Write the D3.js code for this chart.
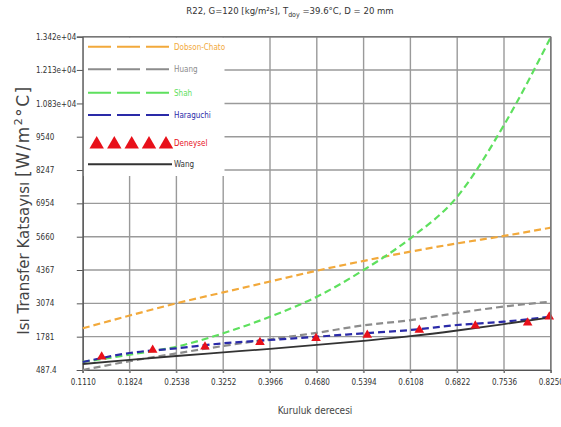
<!DOCTYPE html>
<html>
<head>
<meta charset="utf-8">
<script src="https://cdn.jsdelivr.net/npm/d3@7"></script>
<style>
  body { margin: 0; background: #fff; }
  svg { display: block; }
  .narrow { font-family: "Liberation Sans Narrow", "DejaVu Sans Condensed", "Liberation Sans", sans-serif; }
</style>
</head>
<body>
<svg id="graph" width="561" height="427"></svg>
<script>
// dryness fraction ticks (x)
var xTicks = [0.1110, 0.1824, 0.2538, 0.3252, 0.3966, 0.4680, 0.5394, 0.6108, 0.6822, 0.7536, 0.8250];
var xTickLabels = ["0.1110", "0.1824", "0.2538", "0.3252", "0.3966", "0.4680", "0.5394", "0.6108", "0.6822", "0.7536", "0.8250"];
var yTicks = [487.4, 1781, 3074, 4367, 5660, 6954, 8247, 9540, 10830, 12130, 13420];
var yTickLabels = ["487.4", "1781", "3074", "4367", "5660", "6954", "8247", "9540", "1.083e+04", "1.213e+04", "1.342e+04"];

// correlations, one value per x tick
var dobsonChato = [2105, 2600, 3075, 3500, 3920, 4340, 4720, 5080, 5400, 5690, 6010];
var huang = [487, 830, 1130, 1420, 1680, 1930, 2220, 2420, 2700, 2950, 3140];
var shah = [800, 1080, 1391, 1911, 2555, 3331, 4367, 5597, 7211, 9993, 13400];
var haraguchi = [797, 1147, 1329, 1523, 1651, 1779, 1911, 2039, 2233, 2361, 2555];
var wang = [720, 880, 1030, 1170, 1310, 1460, 1620, 1800, 2020, 2270, 2532];

// experimental points
var denX = [0.1398, 0.2176, 0.2974, 0.3813, 0.4668, 0.5450, 0.6244, 0.7098, 0.7897, 0.8227];
var denY = [1003, 1263, 1391, 1562, 1717, 1845, 2039, 2206, 2322, 2555];

var pl = 82.8, pr = 550.8, pt = 36.7, pb = 370;

var x = d3.scaleLinear().domain([0.111, 0.825]).range([pl, pr]);
var y = d3.scaleLinear().domain([487.4, 13420]).range([pb, pt]);

var graph = d3.select("#graph");

// grid
graph.append("g")
  .selectAll("line")
  .data(xTicks)
  .enter()
  .append("line")
  .attr("x1", function (d) { return x(d); })
  .attr("x2", function (d) { return x(d); })
  .attr("y1", pt)
  .attr("y2", pb + 3)
  .attr("stroke", "#9a9a9a")
  .attr("stroke-width", 1.4);

graph.append("g")
  .selectAll("line")
  .data(yTicks)
  .enter()
  .append("line")
  .attr("x1", pl)
  .attr("x2", pr)
  .attr("y1", function (d) { return y(d); })
  .attr("y2", function (d) { return y(d); })
  .attr("stroke", "#9a9a9a")
  .attr("stroke-width", 1.4);

// y axis
var yAxis = d3.axisLeft(y).tickValues(yTicks).tickSize(6).tickFormat(function (d, i) { return yTickLabels[i]; });
var gy = graph.append("g")
  .attr("transform", "translate(" + pl + ",0)")
  .attr("class", "narrow")
  .call(yAxis);
gy.select(".domain").attr("stroke", "#555").attr("stroke-width", 1.2);
gy.selectAll(".tick line").attr("stroke", "#555");
gy.selectAll(".tick text")
  .attr("x", 36 - pl)
  .attr("text-anchor", "start")
  .attr("font-size", 8)
  .attr("fill", "#333");

// x axis
var xAxis = d3.axisBottom(x).tickValues(xTicks).tickSize(3).tickFormat(function (d, i) { return xTickLabels[i]; });
var gx = graph.append("g")
  .attr("transform", "translate(0," + pb + ")")
  .attr("class", "narrow")
  .call(xAxis);
gx.select(".domain").attr("stroke", "#555").attr("stroke-width", 1.2);
gx.selectAll(".tick line").attr("stroke", "#777");
gx.selectAll(".tick text")
  .attr("y", 9)
  .attr("font-size", 8)
  .attr("fill", "#333");

// series
var series = [
  { name: "Dobson-Chato", values: dobsonChato, color: "#f2a93b" },
  { name: "Huang", values: huang, color: "#8c8c8c" },
  { name: "Shah", values: shah, color: "#5ee05e" },
  { name: "Haraguchi", values: haraguchi, color: "#2a2aa8" },
];

var line = d3.line()
  .x(function (d, i) { return x(xTicks[i]); })
  .y(function (d) { return y(d); })
  .curve(d3.curveMonotoneX);

graph.append("g")
  .selectAll("path")
  .data(series)
  .enter()
  .append("path")
  .attr("d", function (d) { return line(d.values); })
  .attr("fill", "none")
  .attr("stroke", function (d) { return d.color; })
  .attr("stroke-width", 2.2)
  .attr("stroke-dasharray", "7,4");

graph.append("path")
  .attr("d", line(wang))
  .attr("fill", "none")
  .attr("stroke", "#333")
  .attr("stroke-width", 1.8);

var tri = d3.symbol().type(d3.symbolTriangle).size(40);
graph.append("g")
  .selectAll("path")
  .data(denX)
  .enter()
  .append("path")
  .attr("d", tri)
  .attr("transform", function (d, i) { return "translate(" + x(d) + "," + y(denY[i]) + ")"; })
  .attr("fill", "#e8101a");

// white legend area (hides grid)
graph.append("rect")
  .attr("x", pl + 1)
  .attr("y", pt + 1)
  .attr("width", 224.5 - pl - 1)
  .attr("height", 176 - pt - 1)
  .attr("fill", "#fff");

// legend
var legend = [
  { name: "Dobson-Chato", color: "#f2a93b", y: 46.7, dash: "23,6" },
  { name: "Huang", color: "#8c8c8c", y: 69.3, dash: "23,6" },
  { name: "Shah", color: "#5ee05e", y: 92.7, dash: "23,6" },
  { name: "Haraguchi", color: "#2a2aa8", y: 115, dash: "23,6" },
  { name: "Deneysel", color: "#e8101a", y: 143.3, dash: null },
  { name: "Wang", color: "#333", y: 164.3, dash: "none" },
];
var lg = graph.append("g").attr("class", "narrow");
legend.forEach(function (d) {
  if (d.dash !== null) {
    lg.append("line")
      .attr("x1", 88).attr("x2", 172)
      .attr("y1", d.y).attr("y2", d.y)
      .attr("stroke", d.color)
      .attr("stroke-width", 2)
      .attr("stroke-dasharray", d.dash);
  } else {
    var bigTri = d3.symbol().type(d3.symbolTriangle).size(90);
    [96.7, 114.3, 131.7, 149, 166].forEach(function (tx) {
      lg.append("path").attr("d", bigTri)
        .attr("transform", "translate(" + tx + "," + (d.y + 1) + ")")
        .attr("fill", d.color);
    });
  }
  lg.append("text")
    .attr("x", 174)
    .attr("y", d.y + 3)
    .attr("font-size", 8)
    .attr("fill", d.color)
    .text(d.name);
});

// frame top/right
graph.append("line").attr("x1", pl).attr("x2", pr).attr("y1", pt).attr("y2", pt)
  .attr("stroke", "#777").attr("stroke-width", 1.5);
graph.append("line").attr("x1", pr).attr("x2", pr).attr("y1", pt).attr("y2", pb)
  .attr("stroke", "#777").attr("stroke-width", 1.5);

// title
var title = graph.append("text")
  .attr("class", "narrow")
  .attr("x", 290)
  .attr("y", 14)
  .attr("text-anchor", "middle")
  .attr("font-size", 9.5)
  .attr("fill", "#333");
title.append("tspan").text("R22, G=120 [kg/m²s], T");
title.append("tspan").attr("font-size", 7).attr("dy", 3).text("doy");
title.append("tspan").attr("dy", -3).text(" =39.6°C, D = 20 mm");

// axis labels
graph.append("text")
  .attr("class", "narrow")
  .attr("x", 315)
  .attr("y", 414)
  .attr("text-anchor", "middle")
  .attr("font-size", 10)
  .attr("fill", "#444")
  .text("Kuruluk derecesi");

var yl = graph.append("text")
  .attr("transform", "translate(29,210) rotate(-90)")
  .attr("text-anchor", "middle")
  .attr("font-family", "'DejaVu Sans', sans-serif")
  .attr("font-size", 15)
  .attr("fill", "#444");
yl.append("tspan").text("Isı Transfer Katsayısı ");
yl.append("tspan").attr("font-size", 17).attr("letter-spacing", 1.5).text("[W/m");
yl.append("tspan").attr("font-size", 11).attr("dy", -7).attr("letter-spacing", 1.5).text("2");
yl.append("tspan").attr("font-size", 17).attr("dy", 7).attr("letter-spacing", 1.5).text("°C]");
</script>
</body>
</html>
